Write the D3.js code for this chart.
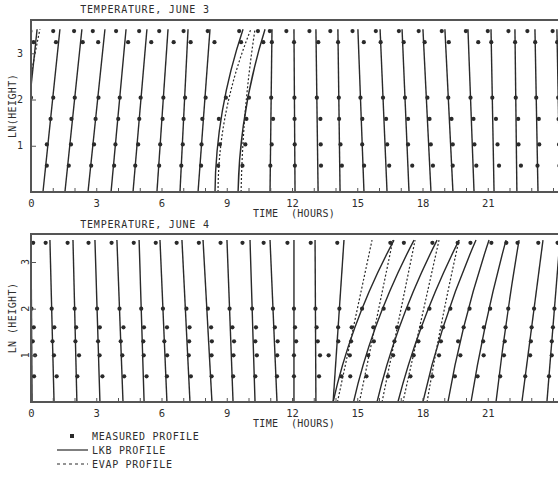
<!DOCTYPE html>
<html>
<head>
<meta charset="utf-8">
<script src="https://cdn.jsdelivr.net/npm/d3@7"></script>
<style>
  body { margin: 0; background: #fff; }
  text { font-family: "DejaVu Sans Mono", monospace; fill: #2e2e2e; }
</style>
</head>
<body>
<script>
// ln(height) of the measured points and of the top of the model profiles
const measLevels3 = [0.57, 1.03, 1.58, 2.04, 3.24, 3.48];
const measLevels4 = [0.55, 1.0, 1.3, 1.6, 2.0, 3.41];
const profileTop3 = 3.52;
const profileTop4 = 3.47;

// June 3 - LKB profile: time position (hours) at the ground, at the top, and curvature
const lkbBase3 = [-0.51, 0.55, 1.56, 2.62, 3.68, 4.69, 5.79, 6.85, 7.68, 8.46, 9.52, 10.99,
                  12.14, 13.20, 14.21, 15.31, 16.37, 17.38, 18.39, 19.40, 20.37, 21.29, 22.34, 23.31, 24.32];
const lkbTop3  = [0.28, 1.33, 2.34, 3.40, 4.37, 5.33, 6.30, 7.22, 8.23, 9.75, 10.76, 11.08,
                  12.09, 13.10, 14.11, 15.03, 16.05, 17.06, 18.02, 19.03, 20.09, 21.15, 22.25, 23.17, 24.18];
const lkbBend3 = [0, 0, 0, 0, 0, 0, 0, 0, 0, -0.61, -0.55, 0,
                  0, 0, 0, 0, 0, 0, 0, 0, 0, 0, 0, 0, 0];
// June 3 - EVAP profile where it departs from LKB: [index, base, top, bend]
const evap3 = [[0, -0.74, 0.41, -0.2], [9, 8.60, 10.11, -0.75], [10, 9.66, 10.30, -0.25]];
// June 3 - measured points: departure (hours) from the LKB profile at each level
const meas3 = [
  [0.1, 0.1, 0.05, 0.05, -0.1, -0.3],
  [0.05, -0.05, 0, 0.02, -0.12, -0.3],
  [0.05, 0.05, -0.05, 0, 0.1, -0.35],
  [0.02, 0.05, 0, 0.03, -0.25, -0.55],
  [0.03, 0, 0.02, 0, 0.15, -0.45],
  [0, 0.05, 0, -0.02, 0.25, -0.35],
  [0.02, 0, 0.03, 0, 0.3, -0.4],
  [0, 0.02, 0, 0.02, 0.15, -0.2],
  [0.05, 0, -0.05, 0.03, 0.25, -0.1],
  [0.1, 0.1, -0.1, 0.05, 0.1, -0.15],
  [0.15, 0.2, 0.1, 0.05, 0.1, -0.3],
  [0, 0.05, 0.1, 0, 0, -0.1],
  [0, 0, 0, 0, 0, -0.35],
  [0.15, 0.15, 0.15, 0, 0.1, -0.3],
  [0.1, 0.05, 0, 0, 0, -0.35],
  [0.05, 0, 0.05, 0, 0.25, -0.25],
  [0.15, 0.1, 0.1, 0, 0, -0.2],
  [0.2, 0.05, 0.1, 0, 0.05, -0.15],
  [0.15, 0.1, 0.1, 0.05, 0.05, -0.2],
  [0.05, 0.1, 0.1, 0, 0.15, -0.15],
  [0.15, 0.1, 0.1, 0, 0.45, -0.1],
  [0.25, 0.2, 0.15, 0, 0, -0.15],
  [0.2, 0.1, 0.1, 0, 0, -0.3],
  [0, 0.1, 0.1, 0, 0, -0.35],
  [0, 0, 0, 0, 0, -0.2]
];

// June 4 - LKB profile
const lkbBase4 = [0.05, 1.06, 2.11, 3.17, 4.23, 5.20, 6.25, 7.31, 8.32, 9.29, 10.30, 11.31,
                  12.09, 13.10, 13.89, 13.89, 14.83, 15.91, 16.87, 18.02, 19.17, 20.23, 21.38, 22.57, 23.72];
const lkbTop4  = [0.0, 0.87, 1.93, 2.94, 3.95, 4.97, 5.93, 6.94, 7.91, 9.01, 10.07, 10.99,
                  12.09, 13.06, 14.39, 16.69, 17.61, 18.67, 19.68, 20.46, 21.06, 21.84, 22.44, 23.54, 24.32];
const lkbBend4 = [0, 0, 0, 0, 0, 0, 0, 0, 0, 0, 0, 0,
                  0, 0, 0, -0.58, -0.55, -0.5, -0.45, -0.4, -0.3, -0.2, -0.1, 0, 0];
const evap4 = [[15, 14.09, 15.68, 0], [16, 15.10, 16.64, 0], [17, 16.14, 17.66, 0],
               [18, 17.10, 18.76, 0], [19, 18.21, 19.68, -0.1]];
const meas4 = [
  [0.1, 0.15, 0.05, 0.1, 0, 0.1],
  [0.15, 0.05, 0, 0.1, 0, -0.2],
  [0.05, 0.15, 0, 0.05, 0, -0.25],
  [0.15, 0.05, 0, 0.1, 0, -0.3],
  [0.1, 0.05, 0, 0.15, 0, -0.25],
  [0.15, 0.05, 0.05, 0.1, 0, -0.25],
  [0.05, 0.1, 0, 0.15, 0, -0.2],
  [0.1, 0.05, 0.1, 0.15, 0.05, -0.25],
  [0.05, 0.1, 0.15, 0.15, 0.05, -0.2],
  [0.05, 0.1, 0.15, 0.1, 0, -0.3],
  [0.05, 0.15, 0.1, 0.15, 0, -0.35],
  [0.05, 0.1, 0.15, 0.05, 0, -0.3],
  [0, 0, 0.1, 0.05, 0, -0.3],
  [0.15, 0.2, 0.1, 0.05, 0, -0.2],
  [0.3, -0.35, 0.05, 0, 0, -0.3],
  [0.5, 0.2, 0.05, -0.15, 0, -0.1],
  [0.3, 0.1, 0.15, -0.1, 0.05, -0.4],
  [0.2, 0.15, 0, -0.1, 0.1, -0.15],
  [0.25, 0.1, 0.1, 0, 0.05, 0],
  [0.15, 0.2, 0.1, 0, 0.05, -0.2],
  [0.1, 0.15, -0.1, 0, 0.05, 0.15],
  [0.1, 0.2, 0.05, -0.05, 0.05, 0.05],
  [0.05, 0.1, 0.05, 0, 0, -0.05],
  [0, 0.1, 0.05, 0, 0, -0.2],
  [0, 0.05, 0, 0, 0, -0.1]
];

const hourTicks = d3.range(0, 25);
const hourLabels = [0, 3, 6, 9, 12, 15, 18, 21];
const heightLabels = [1, 2, 3];

const width = 558, height = 477;
const ink = "#2a2a2a";

const svg = d3.select("body").append("svg")
    .attr("width", width)
    .attr("height", height);

const x = d3.scaleLinear().domain([0, 25]).range([31, 31 + 25 * 21.75]);

function drawPanel(cfg) {
  const y = d3.scaleLinear().domain([0, cfg.yMax]).range([cfg.bottom, cfg.top]);
  const g = svg.append("g");

  g.append("clipPath").attr("id", cfg.id)
    .append("rect")
      .attr("x", x(0)).attr("y", cfg.top)
      .attr("width", x(25) - x(0)).attr("height", cfg.bottom - cfg.top);

  const plot = g.append("g").attr("clip-path", "url(#" + cfg.id + ")");

  // position of a profile (quadratic curve) at ln(height) h
  function posAt(b, t, bend, h) {
    const s = h / cfg.profileTop;
    return b + s * (t - b) + 2 * s * (1 - s) * bend;
  }
  function profilePath(b, t, bend) {
    const p = d3.path();
    p.moveTo(x(b), y(0));
    p.quadraticCurveTo(x((b + t) / 2 + bend), y(cfg.profileTop / 2), x(t), y(cfg.profileTop));
    return p.toString();
  }

  // LKB profiles
  plot.selectAll("path.lkb")
    .data(cfg.base)
    .enter().append("path")
      .attr("class", "lkb")
      .attr("d", (b, i) => profilePath(b, cfg.topPos[i], cfg.bend[i]))
      .attr("fill", "none")
      .attr("stroke", ink)
      .attr("stroke-width", 1.4);

  // EVAP profiles
  plot.selectAll("path.evap")
    .data(cfg.evap)
    .enter().append("path")
      .attr("class", "evap")
      .attr("d", d => profilePath(d[1], d[2], d[3]))
      .attr("fill", "none")
      .attr("stroke", ink)
      .attr("stroke-width", 1.2)
      .attr("stroke-dasharray", "2,2");

  // measured points
  const pts = [];
  cfg.meas.forEach((row, i) => {
    row.forEach((dx, k) => {
      const h = cfg.levels[k];
      pts.push({ t: posAt(cfg.base[i], cfg.topPos[i], cfg.bend[i], h) + dx, h: h });
    });
  });
  plot.selectAll("circle.meas")
    .data(pts)
    .enter().append("circle")
      .attr("class", "meas")
      .attr("cx", d => x(d.t))
      .attr("cy", d => y(d.h))
      .attr("r", 2.1)
      .attr("fill", ink);

  // frame
  g.append("rect")
    .attr("x", x(0)).attr("y", cfg.top)
    .attr("width", x(25) - x(0)).attr("height", cfg.bottom - cfg.top)
    .attr("fill", "none")
    .attr("stroke", "#555")
    .attr("stroke-width", 2);

  // x axis: inward hourly ticks, labels every 3 hours
  const xAxis = g.append("g")
    .attr("transform", "translate(0," + cfg.bottom + ")")
    .call(d3.axisBottom(x).tickValues(hourTicks).tickSize(-4).tickPadding(8)
      .tickFormat(d => hourLabels.includes(d) ? d : ""));
  xAxis.select(".domain").remove();
  xAxis.selectAll("line").attr("stroke", "#555");
  xAxis.selectAll("text").attr("font-size", 10.5).attr("fill", "#2e2e2e")
    .attr("font-family", "DejaVu Sans Mono");

  // y axis: inward ticks
  const yAxis = g.append("g")
    .attr("transform", "translate(" + x(0) + ",0)")
    .call(d3.axisLeft(y).tickValues(heightLabels).tickSize(-5).tickFormat(""));
  yAxis.select(".domain").remove();
  yAxis.selectAll("line").attr("stroke", "#555");

  heightLabels.forEach(v => {
    const t = g.append("text")
      .attr("text-anchor", "middle")
      .attr("font-size", 10)
      .text(v);
    if (cfg.rotLabels) {
      t.attr("transform", "translate(" + 25 + "," + y(v) + ") rotate(-90)")
        .attr("dy", "0.35em");
    } else {
      t.attr("x", 20).attr("y", y(v)).attr("dy", "0.35em");
    }
  });

  g.append("text")
    .attr("transform", "translate(12," + ((cfg.top + cfg.bottom) / 2) + ") rotate(-90)")
    .attr("text-anchor", "middle")
    .attr("dy", "0.35em")
    .attr("font-size", 10)
    .attr("letter-spacing", 0.4)
    .text(cfg.yLabel);

  g.append("text")
    .attr("x", 145).attr("y", cfg.titleY)
    .attr("text-anchor", "middle")
    .attr("font-size", 10)
    .attr("letter-spacing", 0.8)
    .text(cfg.title);

  g.append("text")
    .attr("x", 253).attr("y", cfg.bottom + 25)
    .attr("font-size", 10)
    .attr("letter-spacing", 0.3)
    .style("white-space", "pre")
    .text("TIME  (HOURS)");
}

drawPanel({
  id: "clip3", top: 20, bottom: 192, yMax: 3.72, profileTop: profileTop3,
  base: lkbBase3, topPos: lkbTop3, bend: lkbBend3, evap: evap3,
  meas: meas3, levels: measLevels3,
  title: "TEMPERATURE, JUNE 3", titleY: 13, yLabel: "LN(HEIGHT)", rotLabels: false
});

drawPanel({
  id: "clip4", top: 234, bottom: 402, yMax: 3.6, profileTop: profileTop4,
  base: lkbBase4, topPos: lkbTop4, bend: lkbBend4, evap: evap4,
  meas: meas4, levels: measLevels4,
  title: "TEMPERATURE, JUNE 4", titleY: 228, yLabel: "LN (HEIGHT)", rotLabels: true
});

// legend
const legend = svg.append("g");
legend.append("rect")
  .attr("x", 70).attr("y", 434).attr("width", 4).attr("height", 4)
  .attr("fill", ink);
legend.append("line")
  .attr("x1", 57).attr("x2", 88).attr("y1", 450).attr("y2", 450)
  .attr("stroke", ink).attr("stroke-width", 1.2);
legend.append("line")
  .attr("x1", 57).attr("x2", 88).attr("y1", 464).attr("y2", 464)
  .attr("stroke", ink).attr("stroke-width", 1.2).attr("stroke-dasharray", "3,3");
legend.selectAll("text")
  .data(["MEASURED PROFILE", "LKB PROFILE", "EVAP PROFILE"])
  .enter().append("text")
    .attr("x", 92)
    .attr("y", (d, i) => 440 + i * 14)
    .attr("font-size", 10)
    .attr("letter-spacing", 0.7)
    .text(d => d);
</script>
</body>
</html>
